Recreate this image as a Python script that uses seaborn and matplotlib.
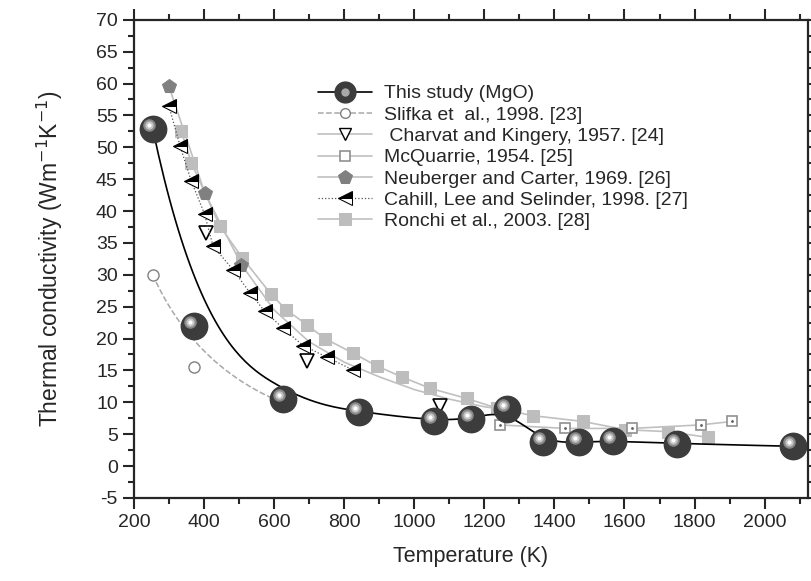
import numpy as np
import matplotlib
matplotlib.use("Agg")
import matplotlib.pyplot as plt
from matplotlib.lines import Line2D
from matplotlib.transforms import offset_copy
from matplotlib.ticker import MultipleLocator
import seaborn as sns

# this study (MgO)
study_T = [254, 373, 627, 843, 1057, 1162, 1264, 1367, 1469, 1566, 1751, 2080]
study_k = [52.9, 22.0, 10.5, 8.5, 7.1, 7.4, 8.9, 3.7, 3.7, 4.0, 3.5, 3.1]
# Slifka et al. 1998
slifka_T = [254, 371, 626]
slifka_k = [30.0, 15.6, 9.9]
# Charvat and Kingery 1957
charvat_T = [405, 694, 1075, 1258]
charvat_k = [36.6, 16.4, 9.4, 8.3]
# McQuarrie 1954
mcq_T = [1245, 1431, 1621, 1817, 1908]
mcq_k = [6.45, 5.9, 5.9, 6.45, 7.0]
# Neuberger and Carter 1969 (markers on first three)
neub_T = [300, 402, 507, 600, 700, 800, 900, 1000, 1100, 1200, 1300]
neub_k = [59.6, 42.9, 31.6, 24.5, 19.5, 16.3, 14.0, 12.0, 10.5, 9.3, 8.5]
# Cahill, Lee and Selinder 1998
cahill_T = [300, 332, 364, 402, 426, 483, 531, 573, 626, 683, 750, 824]
cahill_k = [56.5, 50.2, 44.7, 39.5, 34.5, 30.8, 27.2, 24.3, 21.6, 18.9, 17.1, 15.1]
# Ronchi et al. 2003
ronchi_T = [335, 364, 445, 510, 591, 635, 693, 745, 826, 893, 964, 1045, 1150,
            1235, 1338, 1481, 1602, 1723, 1838]
ronchi_k = [52.6, 47.6, 37.7, 32.6, 27.0, 24.5, 22.2, 20.0, 17.7, 15.7, 14.0, 12.2,
            10.6, 9.1, 7.9, 7.0, 5.7, 5.4, 4.5]


def bspline(xs, ys, k=3, num=400):
    # clamped B-spline through control points (Origin style smoothing)
    P = np.column_stack([xs, ys]).astype(float)
    n = len(P)
    k = min(k, n - 1)
    t = np.concatenate([np.zeros(k), np.linspace(0, 1, n - k + 1), np.ones(k)])
    u = np.linspace(0, 1, num)
    u[-1] -= 1e-9
    B = np.zeros((num, len(t) - 1))
    for i in range(len(t) - 1):
        B[:, i] = (t[i] <= u) & (u < t[i + 1])
    for d in range(1, k + 1):
        Bn = np.zeros((num, len(t) - 1 - d))
        for i in range(len(t) - 1 - d):
            a = (u - t[i]) / (t[i + d] - t[i]) if t[i + d] > t[i] else 0
            b = (t[i + d + 1] - u) / (t[i + d + 1] - t[i + 1]) if t[i + d + 1] > t[i + 1] else 0
            Bn[:, i] = a * B[:, i] + b * B[:, i + 1]
        B = Bn
    return B @ P


sns.set_style("ticks")
plt.rcParams['font.family'] = ['Liberation Sans', 'DejaVu Sans']
plt.rcParams['axes.unicode_minus'] = False

fig = plt.figure(figsize=(8.11, 5.81), dpi=100)
ax = fig.add_axes([0.165, 0.143, 0.831, 0.823])

lg = '#c0c0c0'
sns.lineplot(x=ronchi_T, y=ronchi_k, sort=False, estimator=None, ax=ax, color=lg, lw=1.2,
             marker='s', ms=8, mfc='#bdbdbd', mec='#bdbdbd', label='Ronchi et al., 2003. [28]', zorder=2)
sns.lineplot(x=neub_T, y=neub_k, sort=False, estimator=None, ax=ax, color=lg, lw=1.2,
             marker='p', ms=10, mfc='#808080', mec='#808080', markevery=[0, 1, 2],
             label='Neuberger and Carter, 1969. [26]', zorder=2)
sns.lineplot(x=mcq_T, y=mcq_k, sort=False, estimator=None, ax=ax, color=lg, lw=1.2,
             marker='s', ms=7, mfc='white', mec='#909090', mew=1.2,
             label='McQuarrie, 1954. [25]', zorder=2)
ax.plot(mcq_T, mcq_k, ls='none', marker='.', ms=2, color='#606060', zorder=3)
sns.lineplot(x=charvat_T, y=charvat_k, sort=False, estimator=None, ax=ax, color='none', lw=1.2,
             marker='v', ms=10, mfc='white', mec='black', mew=1.2,
             label=' Charvat and Kingery, 1957. [24]', zorder=4)
sns.lineplot(x=cahill_T, y=cahill_k, sort=False, estimator=None, ax=ax, color='#505050', lw=0.9,
             ls=':', marker='<', ms=10, mfc='black', mec='black', fillstyle='top',
             markerfacecoloralt='white', label='Cahill, Lee and Selinder, 1998. [27]', zorder=4)

sl = bspline(slifka_T, slifka_k, k=2)
ax.plot(sl[:, 0], sl[:, 1], color='#a8a8a8', lw=1.1, ls='--', zorder=2)
ax.plot(slifka_T, slifka_k, ls='none', marker='o', ms=8, mfc='white', mec='#808080', mew=1, zorder=3)

st = bspline(study_T, study_k, k=3)
ax.plot(st[:, 0], st[:, 1], color='black', lw=1.2, zorder=5)
ax.plot(study_T, study_k, ls='none', marker='o', ms=19, mfc='#3c3c3c', mec='#3c3c3c', zorder=6)
hl = offset_copy(ax.transData, fig=fig, x=-4, y=4, units='dots')
ax.plot(study_T, study_k, ls='none', marker='o', ms=9, mfc='#8a8a8a', mec='none', transform=hl, zorder=7)
ax.plot(study_T, study_k, ls='none', marker='o', ms=6, mfc='#c4c4c4', mec='none', transform=hl, zorder=8)
ax.plot(study_T, study_k, ls='none', marker='o', ms=3, mfc='white', mec='none', transform=hl, zorder=9)

ax.set_xlim(200, 2123)
ax.set_ylim(-5, 70)
ax.xaxis.set_major_locator(MultipleLocator(200))
ax.xaxis.set_minor_locator(MultipleLocator(100))
ax.yaxis.set_major_locator(MultipleLocator(5))
ax.yaxis.set_minor_locator(MultipleLocator(2.5))
for s in ax.spines.values():
    s.set_linewidth(1.6)
    s.set_visible(True)
ax.tick_params(which='both', direction='out', top=True, right=True, width=1.5, labelsize=14)
ax.tick_params(which='major', length=8)
ax.tick_params(which='minor', length=4)
ax.set_xlabel('Temperature (K)', fontsize=15.5, labelpad=11)
ax.set_ylabel('Thermal conductivity (Wm$^{-1}$K$^{-1}$)', fontsize=16.5, labelpad=22)

# legend
study_h = (Line2D([], [], color='black', lw=1.2, marker='o', ms=15, mfc='#3c3c3c', mec='#3c3c3c'),
           Line2D([], [], ls='none', marker='o', ms=6, mfc='#a8a8a8', mec='none'))
slifka_h = Line2D([], [], color='#a8a8a8', lw=1.1, ls='--', marker='o', ms=7, mfc='white', mec='#808080')
handles, labels = ax.get_legend_handles_labels()
hmap = dict(zip(labels, handles))
order = ['Ronchi et al., 2003. [28]', 'Neuberger and Carter, 1969. [26]', 'McQuarrie, 1954. [25]',
         ' Charvat and Kingery, 1957. [24]', 'Cahill, Lee and Selinder, 1998. [27]']
charvat_h = Line2D([], [], color=lg, lw=1.2, marker='v', ms=9, mfc='white', mec='black')
leg_h = [study_h, slifka_h, charvat_h, hmap[order[2]], hmap[order[1]], hmap[order[4]], hmap[order[0]]]
leg_l = ['This study (MgO)', 'Slifka et  al., 1998. [23]', order[3], order[2], order[1], order[4], order[0]]
ax.legend(leg_h, leg_l, loc='upper left', bbox_to_anchor=(0.392, 0.854), bbox_transform=fig.transFigure,
          frameon=False, fontsize=14, handlelength=2.8, labelspacing=0.19, borderpad=0,
          borderaxespad=0, handletextpad=0.6)

fig.savefig('out.png', dpi=100)
